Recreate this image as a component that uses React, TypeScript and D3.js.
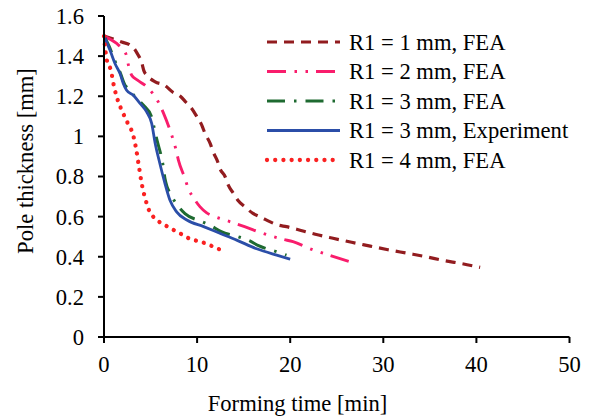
import React from "react";
import * as d3 from "d3";

const W = 594;
const H = 417;

// Axis ticks
const xTicks = [0, 10, 20, 30, 40, 50];
const yTicks = [0, 0.2, 0.4, 0.6, 0.8, 1, 1.2, 1.4, 1.6];
const xTickLabels = ["0", "10", "20", "30", "40", "50"];
const yTickLabels = ["0", "0.2", "0.4", "0.6", "0.8", "1", "1.2", "1.4", "1.6"];

// R1 = 1 mm, FEA
const r1x = [0, 1.0, 1.9, 2.8, 3.2, 3.55, 4.05, 4.3, 4.6, 5.5, 6.5, 7.4, 8.2, 8.8, 9.4, 9.95, 10.5, 10.85, 11.4, 11.75, 12.2, 12.45, 13.0, 13.35, 13.9, 14.4, 15.1, 16.0, 16.9, 17.8, 18.7, 19.6, 20.7, 22.7, 24.6, 26.6, 28.6, 30.5, 32.5, 34.5, 36.4, 38.4, 40.4];
const r1y = [1.50, 1.485, 1.47, 1.455, 1.44, 1.415, 1.368, 1.325, 1.305, 1.272, 1.255, 1.22, 1.20, 1.17, 1.14, 1.10, 1.056, 1.015, 0.965, 0.92, 0.875, 0.84, 0.80, 0.757, 0.716, 0.68, 0.65, 0.616, 0.596, 0.575, 0.558, 0.55, 0.537, 0.512, 0.492, 0.472, 0.453, 0.435, 0.418, 0.401, 0.382, 0.366, 0.347];

// R1 = 2 mm, FEA
const r2x = [0, 1.36, 1.9, 2.36, 2.61, 2.97, 3.6, 4.4, 5.23, 5.83, 6.4, 7.1, 7.45, 7.75, 8.0, 8.7, 9.05, 9.6, 10.3, 11.0, 11.9, 13.0, 14.1, 15.1, 17.1, 19.25, 20.3, 22.3, 24.5, 27.0];
const r2y = [1.50, 1.463, 1.44, 1.41, 1.358, 1.305, 1.28, 1.255, 1.214, 1.172, 1.115, 1.03, 0.98, 0.93, 0.88, 0.79, 0.74, 0.695, 0.65, 0.62, 0.60, 0.583, 0.566, 0.55, 0.516, 0.487, 0.475, 0.437, 0.403, 0.367];

// R1 = 3 mm, FEA
const r3x = [0, 0.64, 1.18, 1.72, 2.26, 2.61, 3.33, 4.22, 5.12, 5.4, 5.7, 6.2, 6.4, 6.55, 7.3, 8.0, 8.7, 10.5, 11.55, 12.6, 14.4, 15.6, 16.6, 18.55, 19.6];
const r3y = [1.50, 1.44, 1.375, 1.32, 1.255, 1.239, 1.197, 1.156, 1.097, 1.04, 0.98, 0.89, 0.84, 0.79, 0.70, 0.65, 0.615, 0.575, 0.553, 0.525, 0.50, 0.48, 0.455, 0.425, 0.408];

// R1 = 3 mm, Experiment
const expx = [0, 0.64, 1.18, 1.72, 2.07, 2.43, 3.15, 3.87, 4.58, 5.12, 5.5, 6.0, 6.55, 7.1, 7.8, 8.9, 10.7, 12.5, 14.25, 16.4, 18.55, 20.0];
const expy = [1.50, 1.43, 1.363, 1.313, 1.264, 1.23, 1.205, 1.164, 1.122, 1.065, 0.965, 0.865, 0.765, 0.68, 0.624, 0.583, 0.55, 0.516, 0.483, 0.44, 0.408, 0.388];

// R1 = 4 mm, FEA
const r4x = [0, 0.1, 0.35, 0.72, 1.07, 1.54, 1.9, 2.26, 2.65, 3.08, 3.4, 3.76, 4.05, 4.48, 4.76, 5.23, 5.94, 6.73, 7.5, 8.35, 9.2, 10.1, 10.95, 11.75, 12.6];
const r4y = [1.50, 1.45, 1.37, 1.333, 1.25, 1.172, 1.131, 1.094, 1.056, 1.015, 0.95, 0.848, 0.765, 0.682, 0.64, 0.603, 0.574, 0.553, 0.533, 0.512, 0.49, 0.478, 0.466, 0.45, 0.433];

const seriesNames = ["R1 = 1 mm, FEA", "R1 = 2 mm, FEA", "R1 = 3 mm, FEA", "R1 = 3 mm, Experiment", "R1 = 4 mm, FEA"];

const styles = [
  { color: "#921c1f", width: 3.2, dash: "10,7", cap: "butt" },
  { color: "#f91d6c", width: 2.9, dash: "19,8.5,2.5,8.5,2.5,8", cap: "butt" },
  { color: "#1e6a31", width: 3, dash: "18,9,2.5,9", cap: "butt" },
  { color: "#2b4ea8", width: 2.8, dash: "", cap: "butt" },
  { color: "#fa2121", width: 4.3, dash: "0.01,8.2", cap: "round" },
];

const FONT = "'Liberation Serif', 'Times New Roman', serif";
const FS = 22.6;

export default function App() {
  const x = d3.scaleLinear().domain([0, 50]).range([104, 569.5]);
  const y = d3.scaleLinear().domain([0, 1.6]).range([337, 16]);

  const allData = [
    [r1x, r1y],
    [r2x, r2y],
    [r3x, r3y],
    [expx, expy],
    [r4x, r4y],
  ];

  const line = d3
    .line<[number, number]>()
    .x((d) => x(d[0]))
    .y((d) => y(d[1]))
    .curve(d3.curveMonotoneX);

  const legendY = [42, 71.5, 101, 130.5, 160];

  return (
    <svg
      width={W}
      height={H}
      style={{ position: "absolute", left: 0, top: 0, background: "#fff" }}
      fontFamily={FONT}
    >
      <rect x={0} y={0} width={W} height={H} fill="#fff" />
      {allData.map(([xs, ys], i) => {
        const pts = xs.map((v, j) => [v, ys[j]] as [number, number]);
        const s = styles[i];
        return (
          <path
            key={i}
            d={line(pts) || ""}
            fill="none"
            stroke={s.color}
            strokeWidth={s.width}
            strokeDasharray={s.dash || undefined}
            strokeLinecap={s.cap as any}
          />
        );
      })}
      <line x1={x(0)} x2={x(50)} y1={y(0)} y2={y(0)} stroke="#000" strokeWidth={2} />
      <line x1={x(0)} x2={x(0)} y1={y(0)} y2={y(1.6)} stroke="#000" strokeWidth={2} />
      {xTicks.map((t, i) => (
        <g key={"xt" + i}>
          <line x1={x(t)} x2={x(t)} y1={y(0)} y2={y(0) + 6} stroke="#000" strokeWidth={2} />
          <text x={x(t)} y={372} textAnchor="middle" fontSize={FS} fill="#000">
            {xTickLabels[i]}
          </text>
        </g>
      ))}
      {yTicks.map((t, i) => (
        <g key={"yt" + i}>
          <line x1={x(0) - 6} x2={x(0)} y1={y(t)} y2={y(t)} stroke="#000" strokeWidth={2} />
          <text x={84} y={y(t)} dy="0.35em" textAnchor="end" fontSize={FS} fill="#000">
            {yTickLabels[i]}
          </text>
        </g>
      ))}
      <text x={297.5} y={411} textAnchor="middle" fontSize={FS} fill="#000">
        Forming time [min]
      </text>
      <text
        transform="translate(33,161) rotate(-90)"
        textAnchor="middle"
        fontSize={FS}
        fill="#000"
      >
        Pole thickness [mm]
      </text>
      {seriesNames.map((name, i) => {
        const s = styles[i];
        return (
          <g key={"lg" + i}>
            <line
              x1={267}
              x2={340}
              y1={legendY[i]}
              y2={legendY[i]}
              stroke={s.color}
              strokeWidth={s.width}
              strokeDasharray={s.dash || undefined}
              strokeLinecap={s.cap as any}
            />
            <text x={349} y={legendY[i]} dy="0.35em" fontSize={FS} fill="#000">
              {name}
            </text>
          </g>
        );
      })}
    </svg>
  );
}
